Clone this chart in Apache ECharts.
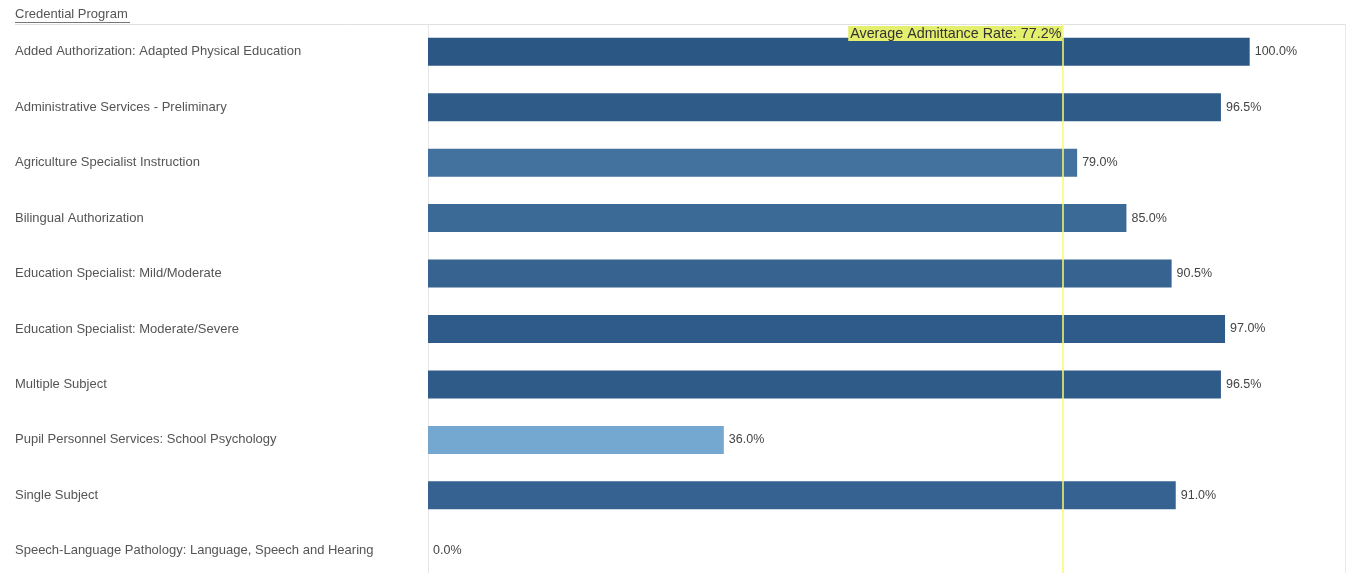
<!DOCTYPE html>
<html>
<head>
<meta charset="utf-8">
<script src="https://cdn.jsdelivr.net/npm/echarts@6/dist/echarts.min.js"></script>
<style>
html,body{margin:0;padding:0;background:#fff;}
#c{width:1354px;height:573px;}
</style>
</head>
<body>
<div id="c"></div>
<script>
const categories = [
  "Added Authorization: Adapted Physical Education",
  "Administrative Services - Preliminary",
  "Agriculture Specialist Instruction",
  "Bilingual Authorization",
  "Education Specialist: Mild/Moderate",
  "Education Specialist: Moderate/Severe",
  "Multiple Subject",
  "Pupil Personnel Services: School Psychology",
  "Single Subject",
  "Speech-Language Pathology: Language, Speech and Hearing"
];
const admitRates = [100.0, 96.5, 79.0, 85.0, 90.5, 97.0, 96.5, 36.0, 91.0, 0.0];
const averageRate = 77.2;
const headerTitle = "Credential Program";

const chart = echarts.init(document.getElementById('c'));
const font = 'Liberation Sans, Arial, sans-serif';
function staticGraphics(extra) {
  return [
    {type: 'text', left: 15, top: 8, style: {text: headerTitle, fill: '#555', fontSize: 13, fontFamily: font}},
    {type: 'line', shape: {x1: 15, y1: 22.5, x2: 130, y2: 22.5}, style: {stroke: '#777', lineWidth: 1}},
    {type: 'line', shape: {x1: 15, y1: 24.5, x2: 1345, y2: 24.5}, style: {stroke: '#e0e0e0', lineWidth: 1}},
    {type: 'line', shape: {x1: 1345.5, y1: 24, x2: 1345.5, y2: 573}, style: {stroke: '#e8e8e8', lineWidth: 1}}
  ].concat(extra || []);
}
chart.setOption({
  animation: false,
  grid: {left: 428, right: 9, top: 24, height: 554.5, containLabel: false, outerBoundsMode: 'none'},
  xAxis: {type: 'value', min: 0, max: 111.6, show: false},
  yAxis: {
    type: 'category', data: categories, inverse: true,
    axisLine: {show: true, lineStyle: {color: '#e6e6e6', width: 1}},
    axisTick: {show: false},
    splitLine: {show: false},
    axisLabel: {align: 'left', margin: 413, color: '#555', fontSize: 13, fontFamily: font}
  },
  visualMap: {
    show: false, type: 'continuous', dimension: 0, min: 30, max: 100,
    inRange: {color: ['#7bb0d8', '#2b5785']}
  },
  series: [{
    type: 'bar',
    data: admitRates,
    barWidth: 28,
    label: {
      show: true, position: 'right', distance: 5,
      color: '#444', fontSize: 12.5, fontFamily: font,
      formatter: p => p.value.toFixed(1) + '%'
    },
    markLine: {
      silent: true, symbol: 'none',
      lineStyle: {color: 'rgba(250,250,110,0.75)', width: 2, type: 'solid'},
      label: {show: false},
      data: [{xAxis: averageRate}]
    }
  }],
  graphic: staticGraphics()
});

const px = chart.convertToPixel({gridIndex: 0}, [averageRate, 0]);
chart.setOption({
  graphic: staticGraphics([{
    type: 'text', x: px[0], y: 26, z: 100,
    style: {
      text: 'Average Admittance Rate: ' + averageRate.toFixed(1) + '%',
      align: 'right', verticalAlign: 'top',
      fill: '#333', fontSize: 14.3, fontFamily: font,
      backgroundColor: '#e4ef6e', padding: [1, 1, 0, 2]
    }
  }])
}, {replaceMerge: ['graphic']});
</script>
</body>
</html>
